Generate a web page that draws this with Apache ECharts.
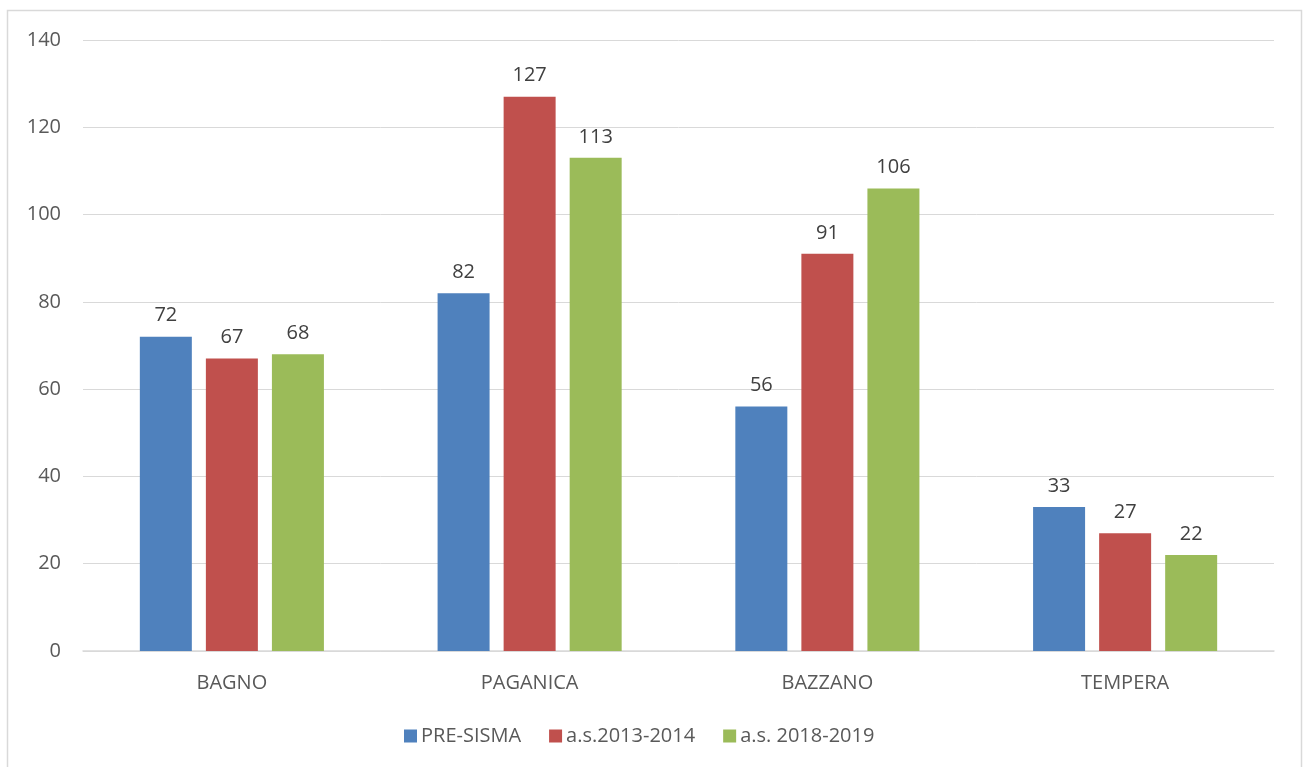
<!DOCTYPE html>
<html>
<head>
<meta charset="utf-8">
<script src="https://cdn.jsdelivr.net/npm/echarts@6/dist/echarts.min.js"></script>
<style>html,body{margin:0;padding:0;background:#fff}#c{width:1303px;height:767px}</style>
</head>
<body>
<div id="c"></div>
<script>
const categories = ['BAGNO', 'PAGANICA', 'BAZZANO', 'TEMPERA'];
const seriesNames = ['PRE-SISMA', 'a.s.2013-2014', 'a.s. 2018-2019'];
const preSisma = [72, 82, 56, 33];
const as2013 = [67, 127, 91, 27];
const as2018 = [68, 113, 106, 22];
const colors = ['#4F81BD', '#C0504D', '#9BBB59'];
const FONT = 'Open Sans';

const chart = echarts.init(document.getElementById('c'), null, {renderer: 'canvas'});
const mk = (name, data, color) => ({
  name, type: 'bar', data, barWidth: 52, barGap: '27%',
  itemStyle: {color},
  label: {show: true, position: 'top', distance: 11, color: '#404040', fontSize: 20, fontFamily: FONT}
});
chart.setOption({
  animation: false,
  textStyle: {fontFamily: FONT},
  graphic: [{type: 'rect', shape: {x: 7.5, y: 10.5, width: 1294, height: 770}, style: {fill: 'none', stroke: '#d9d9d9', lineWidth: 1.5}, silent: true}],
  grid: {left: 83, right: 29, top: 40, bottom: 116},
  legend: {
    bottom: 16, left: 399, itemWidth: 13, itemHeight: 13, itemGap: 28, icon: 'rect',
    textStyle: {color: '#595959', fontSize: 20, fontFamily: FONT, padding: [0, 0, 0, -1]},
    data: seriesNames
  },
  xAxis: {
    type: 'category', data: categories,
    axisLine: {lineStyle: {color: '#d9d9d9', width: 1.5}},
    axisTick: {show: false},
    axisLabel: {color: '#595959', fontSize: 20, fontFamily: FONT, margin: 22}
  },
  yAxis: {
    type: 'value', min: 0, max: 140, interval: 20,
    axisLine: {show: false}, axisTick: {show: false},
    splitLine: {lineStyle: {color: '#d9d9d9', width: 1}},
    axisLabel: {color: '#595959', fontSize: 20, fontFamily: FONT, margin: 22}
  },
  series: [mk(seriesNames[0], preSisma, colors[0]), mk(seriesNames[1], as2013, colors[1]), mk(seriesNames[2], as2018, colors[2])]
});
</script>
</body>
</html>
